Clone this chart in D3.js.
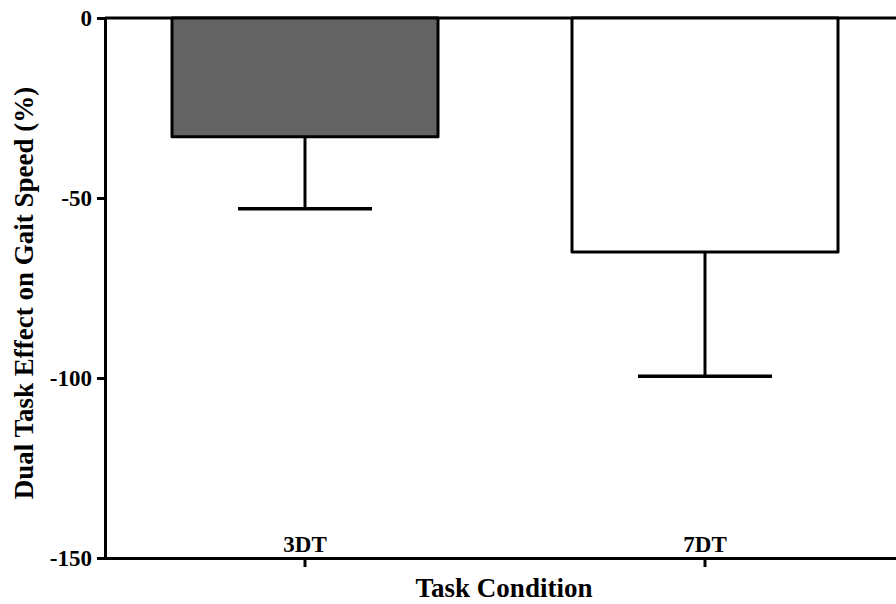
<!DOCTYPE html>
<html>
<head>
<meta charset="utf-8">
<script src="https://cdn.jsdelivr.net/npm/d3@7"></script>
<style>
  body { margin: 0; background: #fff; }
</style>
</head>
<body>
<div id="chart"></div>
<script>
// data
const conditions = ["3DT", "7DT"];
const means = [-33, -65];
const errors = [20, 34.5];   // length of the (downward) error bar
const fills = ["#636363", "#ffffff"];
const yTicks = [0, -50, -100, -150];

const FONT = "'Liberation Serif', 'Times New Roman', serif";
const W = 896, H = 604;
const margin = {top: 18, right: -9, bottom: 46, left: 105};

const svg = d3.select("#chart").append("svg")
  .attr("width", W).attr("height", H)
  .attr("font-family", FONT).attr("font-weight", "bold");

const x = d3.scaleBand()
  .domain(conditions)
  .range([margin.left, W - margin.right])
  .padding(0);
const y = d3.scaleLinear()
  .domain([-150, 0])
  .range([H - margin.bottom, margin.top]);

const barW = x.bandwidth() * 0.665;
const capW = x.bandwidth() * 0.335;

// top line (zero line) spans the whole width
svg.append("line")
  .attr("x1", margin.left).attr("x2", W)
  .attr("y1", y(0)).attr("y2", y(0))
  .attr("stroke", "#000").attr("stroke-width", 3);

// bars
const g = svg.append("g");
conditions.forEach(function(c, i) {
  const cx = x(c) + x.bandwidth() / 2;
  // error bar first so bar outline sits on top
  g.append("line")
    .attr("x1", cx).attr("x2", cx)
    .attr("y1", y(means[i])).attr("y2", y(means[i] - errors[i]))
    .attr("stroke", "#000").attr("stroke-width", 3);
  g.append("line")
    .attr("x1", cx - capW / 2).attr("x2", cx + capW / 2)
    .attr("y1", y(means[i] - errors[i])).attr("y2", y(means[i] - errors[i]))
    .attr("stroke", "#000").attr("stroke-width", 3.5);
  g.append("rect")
    .attr("x", cx - barW / 2)
    .attr("y", y(0))
    .attr("width", barW)
    .attr("height", y(means[i]) - y(0))
    .attr("fill", fills[i])
    .attr("stroke", "#000").attr("stroke-width", 3)
    .attr("stroke-linejoin", "round");
});

// y axis
const yAxis = svg.append("g")
  .attr("transform", "translate(" + margin.left + ",0)")
  .call(d3.axisLeft(y).tickValues(yTicks).tickSize(8).tickPadding(5).tickFormat(function(d) { return String(d); }));
yAxis.attr("font-family", FONT).attr("font-size", 23);
yAxis.select(".domain").attr("stroke-width", 3);
yAxis.selectAll(".tick line").attr("stroke-width", 3);
yAxis.selectAll(".tick text").attr("dy", "0.33em");

// x axis
const xAxis = svg.append("g")
  .attr("transform", "translate(0," + y(-150) + ")")
  .call(d3.axisBottom(x).tickSize(9).tickSizeOuter(0));
xAxis.attr("font-family", FONT).attr("font-size", 23);
xAxis.select(".domain").attr("stroke-width", 3);
xAxis.selectAll(".tick line").attr("stroke-width", 3);
xAxis.selectAll(".tick text")
  .attr("y", -6).attr("dy", "0");

// axis titles
svg.append("text")
  .attr("x", 504).attr("y", 597)
  .attr("text-anchor", "middle")
  .attr("font-size", 27)
  .text("Task Condition");
svg.append("text")
  .attr("transform", "translate(33,293) rotate(-90)")
  .attr("text-anchor", "middle")
  .attr("font-size", 27)
  .text("Dual Task Effect on Gait Speed (%)");
</script>
</body>
</html>
